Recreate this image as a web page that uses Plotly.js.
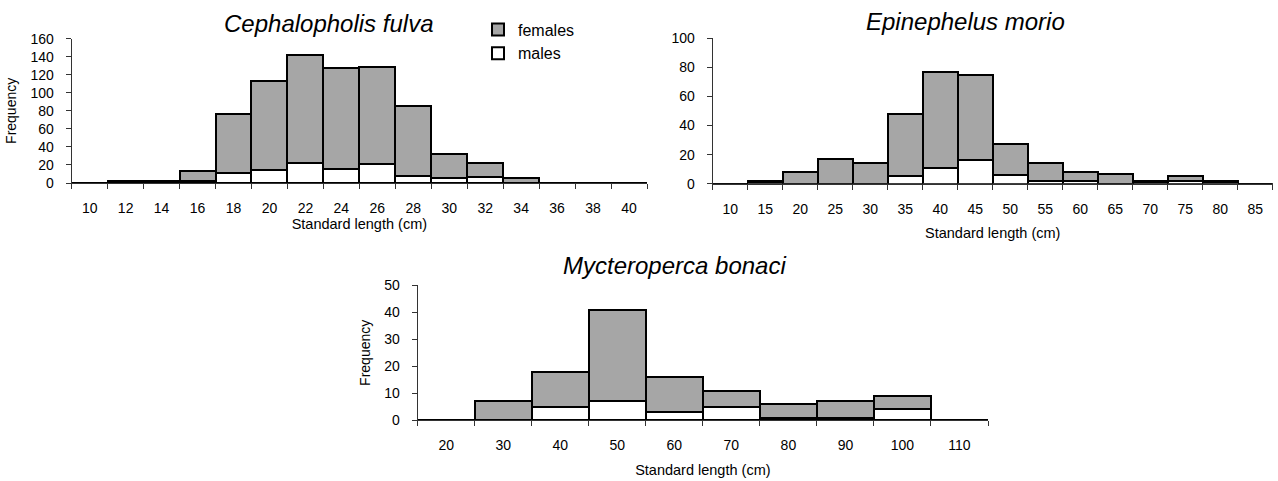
<!DOCTYPE html>
<html>
<head>
<meta charset="utf-8">
<script src="https://cdn.plot.ly/plotly-3.0.1.min.js"></script>
<style>html,body{margin:0;padding:0;background:#fff;}#chart{width:1278px;height:481px;}</style>
</head>
<body>
<div id="chart"></div>
<script>
// Cephalopholis fulva (2 cm classes)
var cfCategories = ['10','12','14','16','18','20','22','24','26','28','30','32','34','36','38','40'];
var cfMales      = [0, 1, 1, 2, 11, 14, 22, 15, 21, 8, 6, 7, 0, 0, 0, 0];
var cfFemales    = [0, 1, 1, 11, 66, 99, 120, 112, 108, 77, 26, 15, 6, 0, 0, 0];

// Epinephelus morio (5 cm classes)
var emCategories = ['10','15','20','25','30','35','40','45','50','55','60','65','70','75','80','85'];
var emMales      = [0, 1, 0, 0, 0, 5, 11, 16, 6, 2, 2, 0, 1, 2, 1, 0];
var emFemales    = [0, 1, 8, 17, 14, 43, 66, 59, 21, 12, 6, 7, 1, 3, 1, 0];

// Mycteroperca bonaci (10 cm classes)
var mbCategories = ['20','30','40','50','60','70','80','90','100','110'];
var mbMales      = [0, 0, 5, 7, 3, 5, 1, 1, 4, 0];
var mbFemales    = [0, 7, 13, 34, 13, 6, 5, 6, 5, 0];

var titles = ['Cephalopholis fulva', 'Epinephelus morio', 'Mycteroperca bonaci'];
var seriesNames = ['males', 'females'];

var FONT = 'Arial, "Liberation Sans", Helvetica, sans-serif';
var W = 1278, H = 481;
var GRAY = '#a6a6a6';
var AXC = '#333333';

function px(x){ return x / W; }
function py(y){ return 1 - y / H; }

function barTrace(cats, vals, name, color, xa, ya, showLegend){
  return {
    type: 'bar', x: cats, y: vals, name: name,
    xaxis: xa, yaxis: ya, legendgroup: name, showlegend: showLegend,
    marker: {color: color, line: {color: '#000', width: 2}},
    hoverinfo: 'x+y+name'
  };
}

var data = [
  barTrace(cfCategories, cfMales, seriesNames[0], '#ffffff', 'x', 'y', true),
  barTrace(cfCategories, cfFemales, seriesNames[1], GRAY, 'x', 'y', true),
  barTrace(emCategories, emMales, seriesNames[0], '#ffffff', 'x2', 'y2', false),
  barTrace(emCategories, emFemales, seriesNames[1], GRAY, 'x2', 'y2', false),
  barTrace(mbCategories, mbMales, seriesNames[0], '#ffffff', 'x3', 'y3', false),
  barTrace(mbCategories, mbFemales, seriesNames[1], GRAY, 'x3', 'y3', false)
];

function xAxis(cats, domain, anchor, titleStandoff){
  return {
    type: 'category', categoryorder: 'array', categoryarray: cats,
    range: [-0.5, cats.length - 0.5], domain: domain, anchor: anchor,
    tickson: 'boundaries', ticks: 'outside', ticklen: 5, tickwidth: 1, tickcolor: AXC,
    showline: true, linecolor: AXC, linewidth: 1, showgrid: false, zeroline: false,
    tickfont: {family: FONT, size: 14, color: '#000'}, ticklabelstandoff: 12,
    title: {text: 'Standard length (cm)', font: {family: FONT, size: 14.5, color: '#000'}, standoff: titleStandoff},
    automargin: false, fixedrange: true
  };
}
function yAxis(range, dtick, domain, anchor, titleText){
  var ax = {
    range: range, dtick: dtick, tick0: 0, domain: domain, anchor: anchor,
    ticks: 'outside', ticklen: 5, tickwidth: 1, tickcolor: AXC,
    showline: true, linecolor: AXC, linewidth: 1, showgrid: false, zeroline: false,
    tickfont: {family: FONT, size: 14, color: '#000'}, ticklabelstandoff: 9,
    automargin: false, fixedrange: true
  };
  if (titleText) ax.title = {text: titleText, font: {family: FONT, size: 14, color: '#000'}, standoff: 10};
  return ax;
}

var layout = {
  width: W, height: H,
  margin: {l: 0, r: 0, t: 0, b: 0},
  paper_bgcolor: '#ffffff', plot_bgcolor: '#ffffff',
  barmode: 'stack', bargap: 0,
  font: {family: FONT, color: '#000'},
  xaxis:  xAxis(cfCategories, [px(71.7), px(647)], 'y', 4),
  yaxis:  yAxis([0, 160], 20, [py(183), py(38.7)], 'x', 'Frequency'),
  xaxis2: xAxis(emCategories, [px(712.7), px(1272.7)], 'y2', 12),
  yaxis2: yAxis([0, 100], 20, [py(183.7), py(38.3)], 'x2', null),
  xaxis3: xAxis(mbCategories, [px(417.7), px(988)], 'y3', 12),
  yaxis3: yAxis([0, 50], 10, [py(420.3), py(285.3)], 'x3', 'Frequency'),
  showlegend: true,
  legend: {
    x: px(478), xanchor: 'left', y: py(12.5), yanchor: 'top',
    font: {family: FONT, size: 16, color: '#000'},
    bgcolor: 'rgba(0,0,0,0)', borderwidth: 0, traceorder: 'reversed'
  },
  annotations: [
    {text: titles[0], x: px(328.5), y: py(23.5), xref: 'paper', yref: 'paper', xanchor: 'center', yanchor: 'middle', showarrow: false,
     font: {family: FONT, size: 24, style: 'italic', color: '#000'}},
    {text: titles[1], x: px(965), y: py(21.5), xref: 'paper', yref: 'paper', xanchor: 'center', yanchor: 'middle', showarrow: false,
     font: {family: FONT, size: 24, style: 'italic', color: '#000'}},
    {text: titles[2], x: px(674.5), y: py(265.5), xref: 'paper', yref: 'paper', xanchor: 'center', yanchor: 'middle', showarrow: false,
     font: {family: FONT, size: 24, style: 'italic', color: '#000'}}
  ]
};

Plotly.newPlot('chart', data, layout, {displayModeBar: false, staticPlot: true});
</script>
</body>
</html>
